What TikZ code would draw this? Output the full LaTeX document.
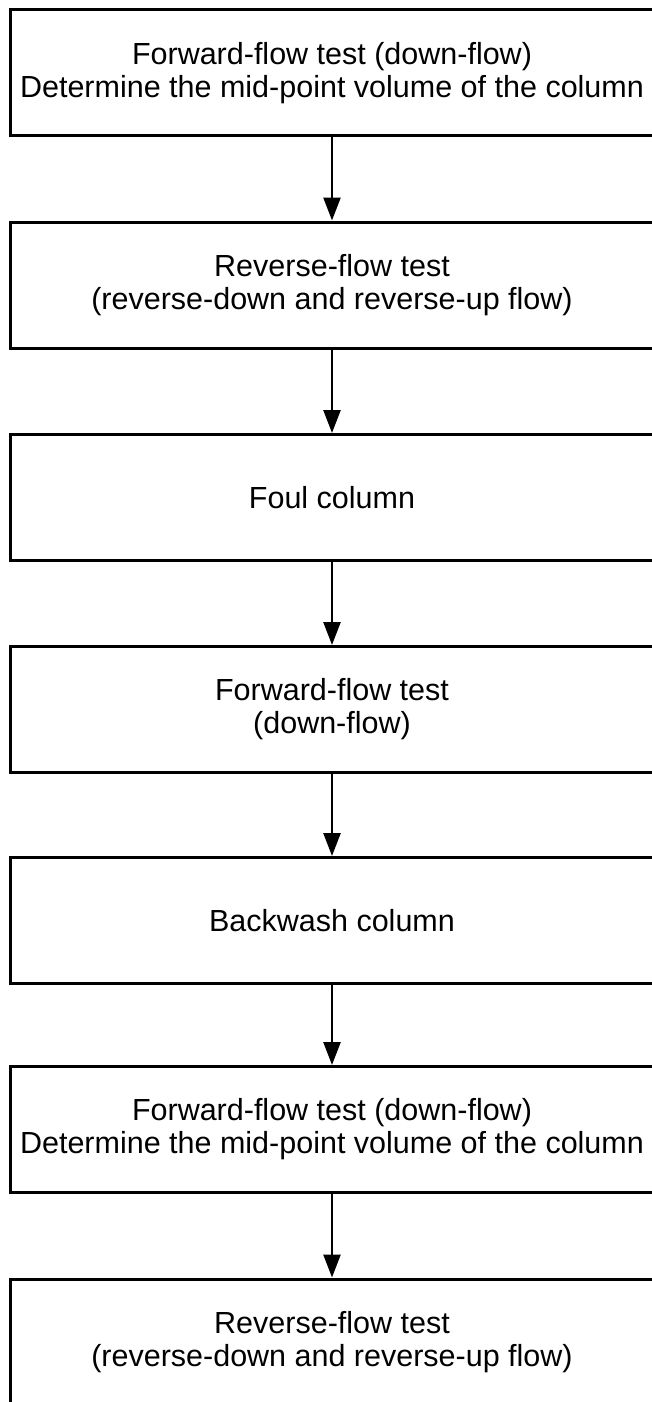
\documentclass[tikz,border=0pt]{standalone}
\usepackage{fontspec}
\setmainfont{Liberation Sans}
\usetikzlibrary{arrows.meta}
\begin{document}
\begin{tikzpicture}[x=1pt,y=1pt,
  stepbox/.style={draw=black, line width=3pt, minimum width=644pt, minimum height=126pt,
    inner sep=0pt, align=center, font=\fontsize{30.5}{33}\selectfont},
  flow/.style={line width=2.5pt, -{Triangle[width=17pt,length=23pt]}}]
\useasboundingbox (0,0) rectangle (651,-1402);
\node[stepbox] (b1) at (332,-73) {Forward-flow test (down-flow)\\Determine the mid-point volume of the column};
\node[stepbox] (b2) at (332,-285) {Reverse-flow test\\(reverse-down and reverse-up flow)};
\node[stepbox] (b3) at (332,-497.5) {Foul column};
\node[stepbox] (b4) at (332,-709.5) {Forward-flow test\\(down-flow)};
\node[stepbox] (b5) at (332,-920.5) {Backwash column};
\node[stepbox] (b6) at (332,-1129.5) {Forward-flow test (down-flow)\\Determine the mid-point volume of the column};
\node[stepbox] (b7) at (332,-1342) {Reverse-flow test\\(reverse-down and reverse-up flow)};
\draw[flow] (b1.south) -- (b2.north);
\draw[flow] (b2.south) -- (b3.north);
\draw[flow] (b3.south) -- (b4.north);
\draw[flow] (b4.south) -- (b5.north);
\draw[flow] (b5.south) -- (b6.north);
\draw[flow] (b6.south) -- (b7.north);
\end{tikzpicture}
\end{document}
